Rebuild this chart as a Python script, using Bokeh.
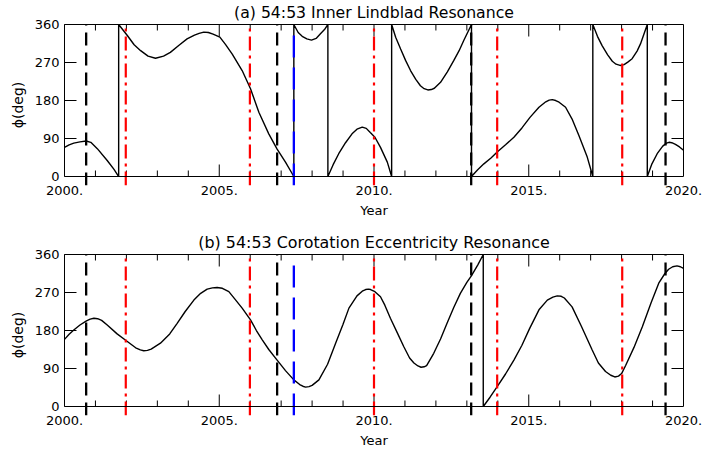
import math
from bokeh.plotting import figure
from bokeh.layouts import column
from bokeh.models import (Range1d, LinearAxis, SingleIntervalTicker, FixedTicker,
                          PrintfTickFormatter, Span)
from bokeh.embed import file_html
from bokeh.resources import INLINE

# ---------------- data ----------------
titles = ["(a) 54:53 Inner Lindblad Resonance",
          "(b) 54:53 Corotation Eccentricity Resonance"]

# panel (a): resonant angle (deg); wraps 0 <-> 360 drawn as vertical jumps
year_a = [2000.00, 2000.15, 2000.30, 2000.50, 2000.70, 2000.85, 2001.06, 2001.38, 2001.60, 2001.75,
          2001.75, 2002.03, 2002.25, 2002.46, 2002.70, 2002.94, 2003.20, 2003.42, 2003.70, 2003.96,
          2004.20, 2004.35, 2004.50, 2004.65, 2004.80, 2005.02, 2005.20, 2005.42, 2005.74, 2006.01,
          2006.28, 2006.60, 2006.87, 2007.14, 2007.41,
          2007.41, 2007.55, 2007.68, 2007.83, 2007.98, 2008.13, 2008.27, 2008.40, 2008.51,
          2008.51, 2008.68, 2008.86, 2009.08, 2009.29, 2009.45, 2009.62, 2009.75, 2009.88, 2010.03,
          2010.21, 2010.43, 2010.57,
          2010.57, 2010.70, 2010.86, 2011.02, 2011.18, 2011.35, 2011.50, 2011.62, 2011.74, 2011.85,
          2011.95, 2012.15, 2012.37, 2012.58, 2012.75, 2012.90, 2013.15,
          2013.15, 2013.35, 2013.55, 2013.78, 2013.98, 2014.25, 2014.52, 2014.78, 2015.04, 2015.33,
          2015.55, 2015.66, 2015.76, 2015.87, 2015.98, 2016.19, 2016.40, 2016.62, 2016.89, 2017.07,
          2017.07, 2017.22, 2017.37, 2017.55, 2017.70, 2017.82, 2017.95, 2018.08, 2018.20, 2018.34,
          2018.50, 2018.61, 2018.83,
          2018.83, 2018.98, 2019.15, 2019.33, 2019.45, 2019.53, 2019.62, 2019.74, 2019.87, 2020.00]
phi_a = [69, 75, 79, 82, 84, 81, 66, 38, 17, 0,
         360, 334, 312, 298, 285, 280, 285, 294, 311, 326,
         335, 339, 342, 341, 337, 330, 313, 290, 251, 208,
         152, 101, 65, 34, 0,
         360, 341, 332, 326, 323, 327, 338, 348, 360,
         0, 28, 54, 80, 101, 112, 117, 114, 104, 93,
         69, 34, 0,
         360, 330, 302, 275, 251, 230, 215, 208, 205, 206,
         209, 223, 248, 275, 298, 322, 360,
         0, 16, 30, 44, 58, 75, 93, 115, 140, 164,
         177, 181, 182, 180, 176, 164, 136, 97, 46, 0,
         360, 332, 310, 288, 273, 266, 263, 265, 271, 279,
         297, 314, 360,
         0, 30, 54, 72, 79, 81, 80, 76, 70, 62]

# panel (b)
year_b = [2000.00, 2000.15, 2000.30, 2000.50, 2000.71, 2000.83, 2000.95, 2001.07, 2001.20, 2001.38,
          2001.70, 2002.03, 2002.30, 2002.45, 2002.56, 2002.68, 2002.80, 2003.10, 2003.40, 2003.64,
          2003.90, 2004.18, 2004.40, 2004.61, 2004.78, 2004.93, 2005.10, 2005.31, 2005.50, 2005.74,
          2006.01, 2006.20, 2006.39, 2006.60, 2006.87, 2007.14, 2007.41, 2007.60, 2007.70, 2007.79,
          2007.90, 2008.00, 2008.22, 2008.50, 2008.76, 2009.00, 2009.19, 2009.45, 2009.62, 2009.73,
          2009.82, 2009.89, 2010.03, 2010.21, 2010.35, 2010.53, 2010.75, 2010.96, 2011.15, 2011.29,
          2011.42, 2011.52, 2011.62, 2011.70, 2011.93, 2012.15, 2012.36, 2012.58, 2012.79, 2013.00,
          2013.14, 2013.35, 2013.53,
          2013.53, 2013.75, 2013.98, 2014.25, 2014.52, 2014.78, 2015.03, 2015.33, 2015.60, 2015.78,
          2015.92, 2016.05, 2016.15, 2016.40, 2016.70, 2017.05, 2017.25, 2017.48, 2017.65, 2017.78,
          2017.90, 2018.00, 2018.13, 2018.40, 2018.67, 2018.95, 2019.20, 2019.40, 2019.52, 2019.65,
          2019.79, 2019.90, 2020.00]
phi_b = [159, 171, 181, 193, 203, 207, 209, 208, 204, 193,
         172, 154, 139, 134, 132, 133, 136, 150, 172, 197,
         225, 252, 268, 278, 281, 282, 280, 272, 255, 233,
         205, 180, 158, 135, 110, 85, 63, 52, 48, 46,
         47, 50, 63, 100, 150, 195, 233, 262, 273, 277,
         278, 277, 272, 260, 240, 209, 175, 142, 115, 103,
         96, 93, 94, 97, 126, 160, 197, 235, 268, 294,
         309, 335, 360,
         0, 22, 47, 77, 110, 145, 185, 229, 252, 259,
         262, 261, 257, 236, 190, 134, 103, 83, 74, 70,
         72, 78, 97, 140, 189, 245, 292, 315, 325, 331,
         333, 331, 327]

black_dash_years = [2000.70, 2006.87, 2013.14, 2019.42]
red_dashdot_years = [2001.98, 2005.99, 2010.00, 2013.98, 2018.02]
blue_dash_years = [2007.41]

y_tick_values = [0, 90, 180, 270, 360]
x_start, x_end = 2000, 2020
x_major_step = 5

FONT = "DejaVu Sans"
Y_LOW = -21.3   # vertical marker lines run a little below the phi = 0 axis
x_major_ticks = list(range(x_start, x_end + 1, x_major_step))
x_minor_ticks = [t for t in range(x_start, x_end + 1) if t not in x_major_ticks]
y_inner_ticks = [t for t in y_tick_values if t not in (0, 360)]


def make_panel(title, years, phis, top_border, bottom_border, title_size):
    p = figure(frame_width=619, frame_height=161,
               x_range=Range1d(x_start, x_end), y_range=Range1d(Y_LOW, 360),
               output_backend="svg", toolbar_location=None,
               min_border_left=64, min_border_right=19,
               min_border_top=top_border, min_border_bottom=bottom_border)
    p.outline_line_color = None
    p.xgrid.visible = False
    p.ygrid.visible = False
    p.background_fill_color = "white"
    p.border_fill_color = "white"

    # title
    p.title.text = title
    p.title.align = "center"
    p.title.vertical_align = "top"
    p.title.text_font = FONT
    p.title.text_font_size = title_size
    p.title.text_font_style = "normal"
    p.title.text_color = "black"
    p.title.standoff = 2

    # bottom axis: only labels (line and ticks drawn at phi = 0 below)
    xa = p.xaxis[0]
    xa.ticker = SingleIntervalTicker(interval=x_major_step, num_minor_ticks=5)
    xa.formatter = PrintfTickFormatter(format="%d.")
    xa.major_tick_line_color = None
    xa.minor_tick_line_color = None
    xa.axis_line_color = None
    xa.major_tick_in = 0
    xa.major_tick_out = 0
    xa.minor_tick_in = 0
    xa.minor_tick_out = 0
    xa.major_label_standoff = 0
    xa.major_label_text_font = FONT
    xa.major_label_text_font_size = "13px"
    xa.major_label_text_color = "black"
    xa.axis_label = "Year"
    xa.axis_label_text_font = FONT
    xa.axis_label_text_font_size = "13px"
    xa.axis_label_text_font_style = "normal"
    xa.axis_label_text_color = "black"
    xa.axis_label_standoff = 5

    ya = p.yaxis[0]
    ya.ticker = FixedTicker(ticks=y_tick_values)
    ya.bounds = (0, 360)
    ya.major_tick_in = 12
    ya.major_tick_out = 0
    ya.minor_tick_line_color = None
    ya.major_label_standoff = 5
    ya.major_label_text_font = FONT
    ya.major_label_text_font_size = "13px"
    ya.major_label_text_color = "black"
    ya.axis_line_color = "black"
    ya.major_tick_line_color = "black"
    ya.axis_label = "ϕ(deg)"
    ya.axis_label_text_font = FONT
    ya.axis_label_text_font_size = "14px"
    ya.axis_label_text_font_style = "normal"
    ya.axis_label_text_color = "black"
    ya.axis_label_standoff = 6

    # frame lines on right and top (ticks drawn as rays)
    p.add_layout(LinearAxis(ticker=FixedTicker(ticks=[]), bounds=(0, 360),
                            axis_line_color="black"), "right")
    p.add_layout(LinearAxis(ticker=FixedTicker(ticks=[]), axis_line_color="black"), "above")
    p.add_layout(Span(location=0, dimension="width", line_color="black", line_width=1))

    # inward ticks
    tick_kw = dict(length_units="screen", line_color="black", line_width=1)
    p.ray(x=x_major_ticks, y=[0] * len(x_major_ticks), length=12, angle=math.pi / 2, **tick_kw)
    p.ray(x=x_minor_ticks, y=[0] * len(x_minor_ticks), length=6, angle=math.pi / 2, **tick_kw)
    p.ray(x=x_major_ticks, y=[360] * len(x_major_ticks), length=12, angle=-math.pi / 2, **tick_kw)
    p.ray(x=x_minor_ticks, y=[360] * len(x_minor_ticks), length=6, angle=-math.pi / 2, **tick_kw)
    p.ray(x=[x_end] * len(y_inner_ticks), y=y_inner_ticks, length=12, angle=math.pi, **tick_kw)

    # curve
    p.line(years, phis, line_color="black", line_width=1.4)

    # event markers
    n = len(black_dash_years)
    p.segment(x0=black_dash_years, y0=[Y_LOW] * n, x1=black_dash_years, y1=[360] * n,
              line_color="black", line_width=2.3, line_dash="13 7")
    n = len(red_dashdot_years)
    p.segment(x0=red_dashdot_years, y0=[Y_LOW] * n, x1=red_dashdot_years, y1=[360] * n,
              line_color="#ff0000", line_width=2.2, line_dash="14 5 3 5")
    n = len(blue_dash_years)
    p.segment(x0=blue_dash_years, y0=[Y_LOW] * n, x1=blue_dash_years, y1=[345] * n,
              line_color="#0000ff", line_width=2.3, line_dash="22 10")
    return p


p1 = make_panel(titles[0], year_a, phi_a, 24, 40, "15.7px")
p2 = make_panel(titles[1], year_b, phi_b, 29, 35, "15.9px")

layout = column(p1, p2, spacing=0)
open("out.html", "w").write(file_html(layout, INLINE))
